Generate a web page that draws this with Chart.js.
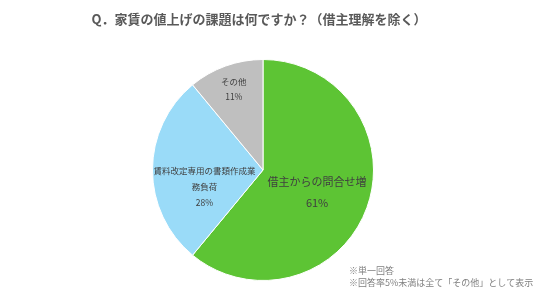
<!DOCTYPE html>
<html>
<head>
<meta charset="utf-8">
<script src="https://cdn.jsdelivr.net/npm/chart.js@4/dist/chart.umd.min.js"></script>
<style>
  html, body { margin: 0; padding: 0; background: #fff; }
  #wrap { width: 536px; height: 307px; }
</style>
</head>
<body>
<div id="wrap"><canvas id="myChart"></canvas></div>
<script>
  const FONT = '"Noto Sans CJK JP", "Noto Sans", sans-serif'

  const titleText = 'Q．家賃の値上げの課題は何ですか？（借主理解を除く）'
  const labels = ['借主からの問合せ増', '賃料改定専用の書類作成業務負荷', 'その他']
  // label lines as shown inside each slice
  const labelLines = [['借主からの問合せ増'], ['賃料改定専用の書類作成業', '務負荷'], ['その他']]
  const values = [61, 28, 11]
  const colors = ['#5dc434', '#9adbf8', '#bfbfbf']
  const notes = ['※単一回答', '※回答率5%未満は全て「その他」として表示']

  // label placement per slice: radius fraction, font size, vertical shift
  const labelStyle = [
    { r: 0.52, size: 11, lh: 21, dy: 3 },
    { r: 0.53, size: 8.5, lh: 16, dy: 17 },
    { r: 0.78, size: 8.5, lh: 15, dy: 0 }
  ]

  const sliceLabels = {
    id: 'sliceLabels',
    afterDatasetsDraw(chart) {
      const ctx = chart.ctx
      const meta = chart.getDatasetMeta(0)
      ctx.save()
      ctx.textAlign = 'center'
      ctx.textBaseline = 'middle'
      ctx.fillStyle = '#404040'
      meta.data.forEach((arc, i) => {
        const p = arc.getProps(['x', 'y', 'startAngle', 'endAngle', 'outerRadius'], true)
        const mid = (p.startAngle + p.endAngle) / 2
        const st = labelStyle[i]
        const cx = p.x + Math.cos(mid) * p.outerRadius * st.r
        const cy = p.y + Math.sin(mid) * p.outerRadius * st.r + st.dy
        const lines = labelLines[i].concat([values[i] + '%'])
        ctx.font = st.size + 'px ' + FONT
        const top = cy - (lines.length - 1) * st.lh / 2
        lines.forEach((t, k) => ctx.fillText(t, cx, top + k * st.lh))
      })
      ctx.restore()
    }
  }

  const extraText = {
    id: 'extraText',
    afterDraw(chart) {
      const ctx = chart.ctx
      ctx.save()
      ctx.fillStyle = '#595959'
      ctx.textBaseline = 'middle'
      ctx.textAlign = 'center'
      ctx.font = 'bold 13px ' + FONT
      ctx.fillText(titleText, 259, 19)
      ctx.textAlign = 'left'
      ctx.font = '9px ' + FONT
      ctx.fillStyle = '#808080'
      notes.forEach((t, k) => ctx.fillText(t, 349, 271 + k * 12))
      ctx.restore()
    }
  }

  let myChart = new Chart(document.getElementById('myChart'), {
    type: 'pie',
    data: {
      labels: labels,
      datasets: [{
        data: values,
        backgroundColor: colors,
        borderColor: '#fff',
        borderWidth: 1
      }]
    },
    plugins: [sliceLabels, extraText],
    options: {
      responsive: true,
      maintainAspectRatio: false,
      animation: false,
      layout: {
        padding: { top: 59, bottom: 26, left: 152, right: 162 }
      },
      plugins: {
        legend: { display: false },
        tooltip: { enabled: false }
      }
    }
  })
</script>
</body>
</html>
